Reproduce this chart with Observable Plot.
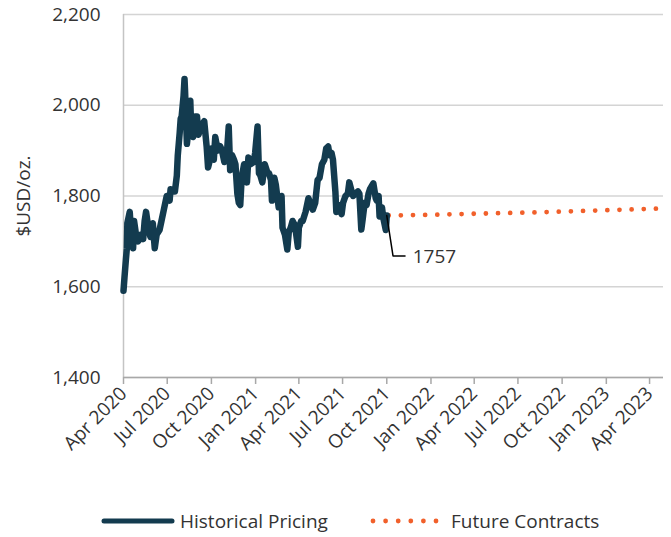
<!DOCTYPE html>
<html><head><meta charset="utf-8">
<script src="https://cdn.jsdelivr.net/npm/d3@7"></script>
<script src="https://cdn.jsdelivr.net/npm/@observablehq/plot@0.6"></script>
<style>
html,body{margin:0;padding:0;background:#fff;}
body{width:671px;height:537px;overflow:hidden;font-family:"Open Sans",sans-serif;}
#legend{position:relative;height:32px;font-family:"Open Sans",sans-serif;font-size:19px;color:#333;}
#legend .item{position:absolute;top:0;height:32px;display:flex;align-items:center;}
#legend svg{display:block;}
</style></head><body>
<div id="chart"></div>
<div id="legend"></div>
<script>
// Historical gold price
const histDates = [
"2020-04-01","2020-04-03","2020-04-06","2020-04-08","2020-04-09","2020-04-14","2020-04-16","2020-04-21","2020-04-23","2020-04-27",
"2020-05-01","2020-05-05","2020-05-08","2020-05-12","2020-05-15","2020-05-18","2020-05-20","2020-05-22","2020-05-27","2020-06-01",
"2020-06-05","2020-06-09","2020-06-15","2020-06-19","2020-06-24","2020-06-30","2020-07-06","2020-07-08","2020-07-14","2020-07-17",
"2020-07-21","2020-07-23","2020-07-27","2020-07-29","2020-07-31","2020-08-04","2020-08-06","2020-08-07","2020-08-11","2020-08-14",
"2020-08-18","2020-08-20","2020-08-24","2020-08-28","2020-09-01","2020-09-04","2020-09-10","2020-09-16","2020-09-21","2020-09-24",
"2020-09-28","2020-10-02","2020-10-06","2020-10-09","2020-10-14","2020-10-19","2020-10-23","2020-10-28","2020-11-02","2020-11-06",
"2020-11-09","2020-11-13","2020-11-17","2020-11-20","2020-11-24","2020-11-27","2020-11-30","2020-12-03","2020-12-08","2020-12-14",
"2020-12-17","2020-12-21","2020-12-28","2020-12-31","2021-01-05","2021-01-08","2021-01-11","2021-01-15","2021-01-20","2021-01-26",
"2021-01-29","2021-02-02","2021-02-04","2021-02-09","2021-02-12","2021-02-18","2021-02-24","2021-02-26","2021-03-03","2021-03-08",
"2021-03-11","2021-03-15","2021-03-19","2021-03-24","2021-03-30","2021-04-01","2021-04-06","2021-04-09","2021-04-15","2021-04-21",
"2021-04-26","2021-04-30","2021-05-05","2021-05-10","2021-05-14","2021-05-19","2021-05-24","2021-05-28","2021-06-01","2021-06-04",
"2021-06-08","2021-06-11","2021-06-16","2021-06-18","2021-06-24","2021-06-29","2021-07-02","2021-07-07","2021-07-12","2021-07-15",
"2021-07-20","2021-07-23","2021-07-28","2021-08-02","2021-08-05","2021-08-09","2021-08-12","2021-08-16","2021-08-20","2021-08-24",
"2021-08-27","2021-09-03","2021-09-08","2021-09-10","2021-09-14","2021-09-16","2021-09-21","2021-09-24","2021-09-29","2021-10-01"
];
const histValues = [
1591,1620,1660,1685,1740,1765,1730,1685,1745,1715,
1700,1705,1715,1705,1745,1765,1750,1735,1710,1740,
1685,1715,1725,1745,1770,1800,1790,1815,1810,1810,
1845,1890,1940,1970,1975,2020,2058,2035,1915,1945,
2010,1945,1930,1975,1975,1935,1955,1965,1910,1863,
1880,1905,1880,1930,1900,1910,1900,1875,1890,1953,
1857,1890,1880,1870,1805,1785,1780,1840,1870,1830,
1885,1870,1875,1895,1953,1850,1845,1830,1870,1850,
1850,1835,1790,1840,1825,1775,1800,1730,1715,1682,
1720,1730,1745,1735,1688,1730,1745,1745,1765,1795,
1780,1770,1785,1835,1840,1870,1880,1905,1909,1890,
1895,1880,1810,1765,1780,1760,1785,1800,1805,1830,
1810,1800,1805,1810,1805,1726,1750,1785,1780,1805,
1815,1828,1795,1790,1800,1755,1775,1750,1725,1757
];
// Future contracts
const futDates = ["2021-10-05","2021-12-28","2022-02-24","2022-04-27","2022-06-28","2022-08-29","2022-10-27","2022-12-28","2023-02-24","2023-04-26"];
const futValues = [1757,1758.5,1760,1761.5,1763,1764.5,1766.5,1768.5,1770.5,1772.5];
// Axis ticks
const yTicks = [1400,1600,1800,2000,2200];
const xTickDates = ["2020-04-01","2020-07-01","2020-10-01","2021-01-01","2021-04-01","2021-07-01","2021-10-01","2022-01-01","2022-04-01","2022-07-01","2022-10-01","2023-01-01","2023-04-01"];
const xDomainDates = ["2020-04-01","2023-04-30"];
// Annotation
const annoLabel = "1757";
const leaderDates = ["2021-10-01","2021-10-14","2021-11-08"];
const leaderValues = [1757,1668,1668];
const labelDate = "2021-11-24";
const labelValue = 1666;

const P = d => new Date(d + "T00:00:00Z");
const hist = histDates.map((d,i)=>({date:P(d), value:histValues[i]}));
const fut = futDates.map((d,i)=>({date:P(d), value:futValues[i]}));
const leader = leaderDates.map((d,i)=>({date:P(d), value:leaderValues[i]}));

const darkBlue = "#133b4f";
const orange = "#f1602b";
const fs = 19;

const chart = Plot.plot({
  width: 671,
  height: 505,
  marginLeft: 123,
  marginRight: 8,
  marginTop: 14,
  marginBottom: 128,
  style: {fontFamily: "'Open Sans', sans-serif", fontSize: fs + "px", color: "#333", background: "#fff"},
  x: {type: "utc", domain: xDomainDates.map(P)},
  y: {domain: [1400, 2200]},
  marks: [
    Plot.gridY(yTicks, {stroke: "#d4d4d4", strokeOpacity: 1, strokeWidth: 1.5}),
    Plot.ruleX([P(xDomainDates[0])], {stroke: "#c4c4c4", strokeWidth: 1.5}),
    Plot.ruleY([1400], {stroke: "#a8a8a8", strokeWidth: 1.5}),
    Plot.axisY({ticks: yTicks, tickFormat: d3.format(","), tickSize: 0, tickPadding: 23, fontSize: fs, fill: "#333",
      label: "$USD/oz.", labelAnchor: "center", labelArrow: "none", labelOffset: 107}),
    Plot.axisX({ticks: xTickDates.map(P), tickFormat: d3.utcFormat("%b %Y"), tickRotate: -45, tickSize: 7, tickPadding: 6,
      stroke: "#a8a8a8", strokeWidth: 1.5, fontSize: fs, fill: "#333", label: null}),
    Plot.line(fut, {x: "date", y: "value", stroke: orange, strokeWidth: 4.8, strokeDasharray: "0 12.15", strokeLinecap: "round"}),
    Plot.line(hist, {x: "date", y: "value", stroke: darkBlue, strokeWidth: 6.5, strokeLinejoin: "round", strokeLinecap: "round"}),
    Plot.line(leader, {x: "date", y: "value", stroke: "#000", strokeWidth: 1.5}),
    Plot.text([{date: P(labelDate), value: labelValue}], {x: "date", y: "value", text: () => annoLabel, textAnchor: "start", fontSize: fs, fill: "#333"})
  ]
});
document.getElementById("chart").appendChild(chart);

// Legend
const legend = d3.select("#legend");
const it1 = legend.append("div").attr("class","item").style("left","100px");
const s1 = it1.append("svg").attr("width", 76).attr("height", 12);
s1.append("line").attr("x1",4).attr("x2",72).attr("y1",6).attr("y2",6).attr("stroke",darkBlue).attr("stroke-width",5).attr("stroke-linecap","round");
it1.append("span").style("margin-left","4px").text("Historical Pricing");
const it2 = legend.append("div").attr("class","item").style("left","370px");
const s2 = it2.append("svg").attr("width", 70).attr("height", 12);
s2.append("line").attr("x1",3).attr("x2",67).attr("y1",6).attr("y2",6).attr("stroke",orange).attr("stroke-width",4.8).attr("stroke-dasharray","0 12.6").attr("stroke-linecap","round");
it2.append("span").style("margin-left","11px").text("Future Contracts");
</script>
</body></html>
